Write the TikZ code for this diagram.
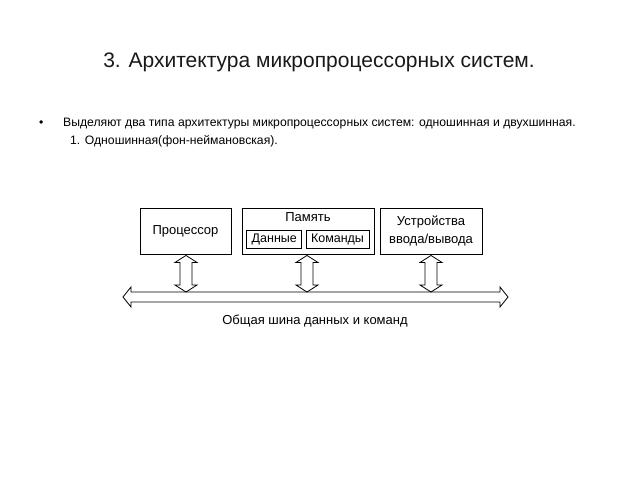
\documentclass[tikz,border=0pt]{standalone}
\usepackage{fontspec}
\setmainfont{Liberation Sans}
\usetikzlibrary{calc}
\tikzset{
  box/.style={draw=black, line width=0.9pt, inner sep=0pt, font=\fontsize{13}{15}\selectfont},
  inbox/.style={draw=black, line width=0.8pt, inner sep=0pt, font=\fontsize{12.5}{14}\selectfont},
  txt/.style={inner sep=0pt, anchor=base west, text=black, font=\fontsize{12.2}{14}\selectfont},
  harrow/.style={draw=black, line width=0.8pt, line join=miter}
}
\begin{document}
\begin{tikzpicture}[x=1pt,y=-1pt]
\useasboundingbox[fill=white] (0,0) rectangle (640,480);
% title and text
\node[inner sep=0pt, anchor=base, font=\fontsize{21}{24}\selectfont, text=black!90] (title) at (319,67.5) {3. Архитектура микропроцессорных систем.};
\node[txt] (bul) at (39,126) {•};
\node[txt] (t1) at (63,126) {Выделяют два типа архитектуры микропроцессорных систем: одношинная и двухшинная.};
\node[txt] (t2) at (70,144.5) {1. Одношинная(фон-неймановская).};
% boxes
\node[box, minimum width=91, minimum height=46] (proc) at (185.5,231) {Процессор};
\node[box, minimum width=132, minimum height=46] (mem) at (308,231) {};
\node[inner sep=0pt, font=\fontsize{13}{15}\selectfont] (memlab) at (308,217.5) {Память};
\node[inbox, minimum width=55, minimum height=17.5] (data) at (274.3,239.5) {Данные};
\node[inbox, minimum width=63, minimum height=17.5] (cmd) at (337.5,239.5) {Команды};
\node[box, minimum width=102, minimum height=46, align=center, font=\fontsize{13}{17.5}\selectfont] (io) at (431,231) {Устройства\\ввода/вывода};
% bus
\coordinate (busL) at (123,297);
\coordinate (busR) at (508,297);
\coordinate (bustop) at (315,292);
\draw[harrow] (busL) -- ($(busL)+(8,-10)$) -- ($(busL)+(8,-5)$) -- ($(busR)+(-8,-5)$) -- ($(busR)+(-8,-10)$) -- (busR)
  -- ($(busR)+(-8,10)$) -- ($(busR)+(-8,5)$) -- ($(busL)+(8,5)$) -- ($(busL)+(8,10)$) -- cycle;
\node[inner sep=0pt, font=\fontsize{13}{15}\selectfont] (buslab) at (315,321.5) {Общая шина данных и команд};
% vertical double arrows
\foreach \n/\dx in {proc/0.5, mem/-1, io/0}{
  \coordinate (\n T) at ($(\n.south)+(\dx,1)$);
  \coordinate (\n B) at (\n T |- bustop);
  \draw[harrow] (\n T) -- ($(\n T)+(11,7)$) -- ($(\n T)+(6,7)$) -- ($(\n B)+(6,-7)$) -- ($(\n B)+(11,-7)$) -- (\n B)
    -- ($(\n B)+(-11,-7)$) -- ($(\n B)+(-6,-7)$) -- ($(\n T)+(-6,7)$) -- ($(\n T)+(-11,7)$) -- cycle;
}
\end{tikzpicture}
\end{document}
